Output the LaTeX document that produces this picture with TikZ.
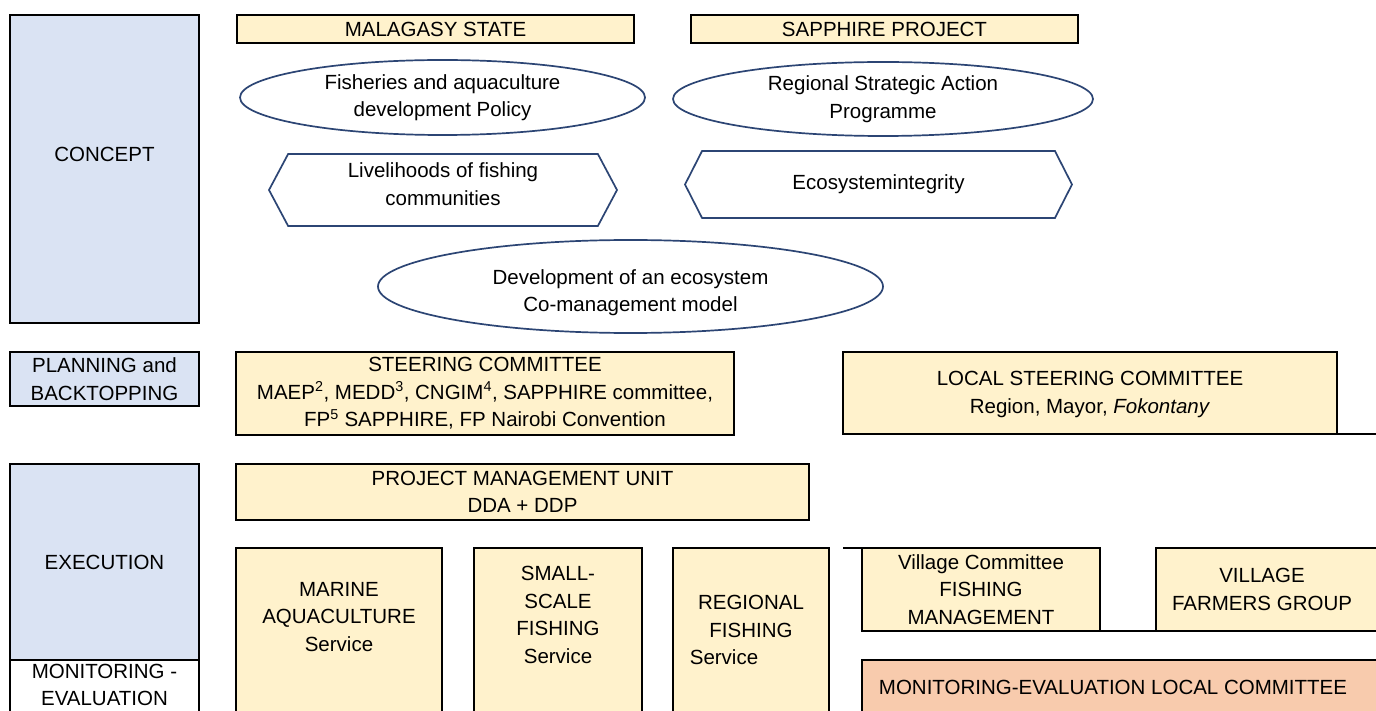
\documentclass[tikz,border=0pt]{standalone}
\usepackage{fontspec}
\setmainfont{Liberation Sans}
\usetikzlibrary{shapes.geometric,shapes.symbols}

\definecolor{cream}{HTML}{FFF2CC}
\definecolor{paleblue}{HTML}{DAE3F3}
\definecolor{salmon}{HTML}{F8CBAD}
\definecolor{navy}{HTML}{2C4574}

\tikzset{
  every node/.style={font=\fontsize{20.5}{27.5}\selectfont, align=center, inner sep=0pt, outer sep=0pt},
  phase/.style={draw=black, line width=2pt, fill=paleblue, rectangle},
  plainphase/.style={draw=black, line width=2pt, fill=white, rectangle},
  unitbox/.style={draw=black, line width=2pt, fill=cream, rectangle},
  alertbox/.style={draw=black, line width=2pt, fill=salmon, rectangle},
  oval/.style={draw=navy, line width=1.7pt, ellipse},
  hexa/.style={draw=navy, line width=1.7pt, signal, signal to=west and east, signal pointer angle=124},
  rule/.style={draw=black, line width=2pt},
}

\begin{document}
\begin{tikzpicture}[x=1pt,y=-1pt]
\useasboundingbox (0,0) rectangle (1376,711);
\clip (0,0) rectangle (1376,711);
\fill[white] (0,0) rectangle (1376,711);

% ---- phase column ----
\node[phase, minimum width=189, minimum height=308,
      label={[yshift=15]center:CONCEPT}] (concept) at (104.5,169) {};
\node[phase, minimum width=189, minimum height=54] (planning) at (104.5,379)
  {PLANNING and\\BACKTOPPING};
\node[phase, minimum width=189, minimum height=196] (execution) at (104.5,562) {EXECUTION};
\node[plainphase, minimum width=189, minimum height=70,
      label={[yshift=10]center:MONITORING -\\EVALUATION}] (monitoring) at (104.5,695) {};

% ---- concept row ----
\node[unitbox, minimum width=397, minimum height=28] (state) at (435.5,29) {MALAGASY STATE};
\node[unitbox, minimum width=387, minimum height=28] (sapphire) at (884.5,29) {SAPPHIRE PROJECT};

\node[oval, minimum width=405, minimum height=75] (policy) at (442.5,97.5)
  {Fisheries and aquaculture\\development Policy};
\node[oval, minimum width=420, minimum height=74] (sap) at (883,99)
  {Regional Strategic Action\\Programme};

\node[hexa, minimum width=348, minimum height=72,
      label={[yshift=6]center:Livelihoods of fishing\\communities}] (livelihoods) at (443,190) {};
\node[hexa, signal pointer angle=126, minimum width=387, minimum height=67] (integrity) at (878.5,184.5)
  {Ecosystemintegrity};

\node[oval, minimum width=505, minimum height=93,
      label={[yshift=-6]center:Development of an ecosystem\\Co-management model}] (comgmt) at (630.5,286.5) {};

% ---- planning row ----
\node[unitbox, minimum width=498, minimum height=83] (steering) at (485,393.5)
  {STEERING COMMITTEE\\
   MAEP\textsuperscript{2}, MEDD\textsuperscript{3}, CNGIM\textsuperscript{4}, SAPPHIRE committee,\\
   FP\textsuperscript{5} SAPPHIRE, FP Nairobi Convention};
\node[unitbox, minimum width=494, minimum height=82,
      label={[yshift=-1.5]center:LOCAL STEERING COMMITTEE\\Region, Mayor, \textit{Fokontany}}] (localsteer) at (1090,393) {};
\draw[rule] (localsteer.south east) -- (1390,434);

% ---- execution row ----
\node[unitbox, minimum width=573, minimum height=56] (pmu) at (522.5,492)
  {PROJECT MANAGEMENT UNIT\\DDA + DDP};

\node[unitbox, minimum width=206, minimum height=182,
      label={[yshift=22]center:MARINE\\AQUACULTURE\\Service}] (marine) at (339,639) {};
\node[unitbox, minimum width=168, minimum height=182,
      label={[yshift=24]center:SMALL-\\SCALE\\FISHING\\Service}] (smallscale) at (558,639) {};
\node[unitbox, minimum width=156, minimum height=182,
      label={[yshift=9]center:REGIONAL\\FISHING\\\hspace*{-54pt}Service}] (regional) at (751,639) {};

\node[unitbox, minimum width=238, minimum height=83] (village) at (981,589.5)
  {Village Committee\\FISHING\\MANAGEMENT};
\node[unitbox, minimum width=234, minimum height=83,
      label={[xshift=-11]center:VILLAGE\\FARMERS GROUP}] (farmers) at (1273,589.5) {};
\draw[rule] (village.north west) -- ++(-19,0);
\draw[rule] (village.south east) -- (farmers.south west);

\node[alertbox, minimum width=528, minimum height=70,
      label={[xshift=-13,yshift=8]center:MONITORING-EVALUATION LOCAL COMMITTEE}] (melocal) at (1126,695) {};
\end{tikzpicture}
\end{document}
